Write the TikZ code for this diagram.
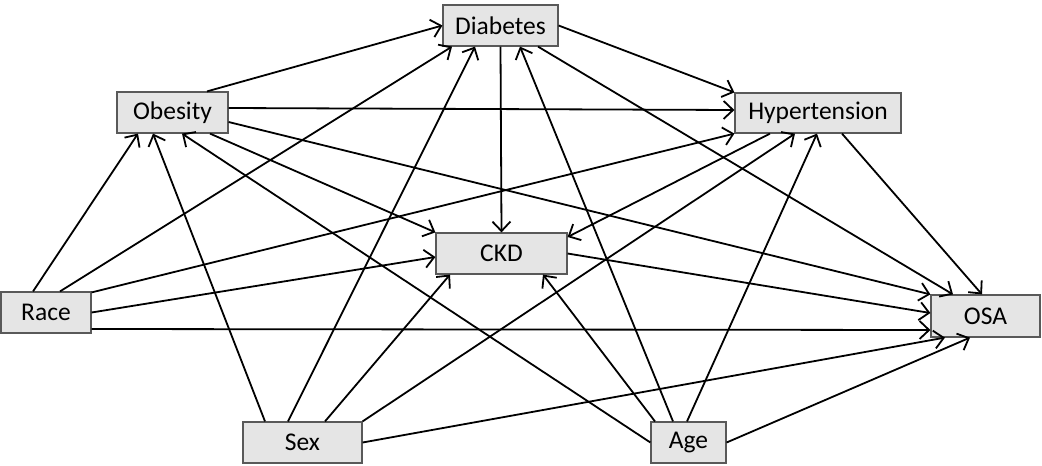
\documentclass[tikz,border=0pt]{standalone}
\usepackage{fontspec}
\setmainfont{Carlito}
\usepackage{tikz}
\usetikzlibrary{arrows.meta}

\begin{document}
\begin{tikzpicture}[x=1pt,y=-1pt,
  box/.style={draw=black!65,fill=black!10,line width=1.2pt,inner sep=0pt,
    minimum height=41pt,font=\fontsize{25.5}{30}\selectfont},
  arr/.style={line width=1.8pt,
    -{Straight Barb[length=9.5pt,width=18pt,line width=1.8pt]}}
]
\useasboundingbox (0,0) rectangle (1042,466);
%--- variables ---
\node[box,minimum width=115pt] (diab) at (500.5,25.5) {Diabetes};
\node[box,minimum width=111pt] (obes) at (172.5,112.5) {Obesity};
\node[box,minimum width=166pt,minimum height=40pt] (hyp) at (818,113) {Hypertension};
\node[box,minimum width=131pt] (ckd) at (501.5,253.5) {CKD};
\node[box,minimum width=90pt] (race) at (46,312.5) {Race};
\node[box,minimum width=109pt,minimum height=42pt] (osa) at (985.5,316) {OSA};
\node[box,minimum width=119pt] (sex) at (302.5,442.5) {Sex};
\node[box,minimum width=75pt] (age) at (688.5,442.5) {Age};
%--- from race ---
\draw[arr] ([xshift=-13pt]race.north) -- ([xshift=-34.5pt]obes.south);
\draw[arr] ([xshift=14pt]race.north) -- ([xshift=-48.5pt]diab.south);
\draw[arr] ([yshift=-1pt]race.north east) -- (hyp.south west);
\draw[arr] (race.east) -- ([yshift=-3.5pt]ckd.west);
\draw[arr] ([yshift=-16.5pt]race.east) -- ([yshift=-14pt]osa.west);
%--- from obesity ---
\draw[arr] ([xshift=34.5pt]obes.north) -- (diab.west);
\draw[arr] ([yshift=4.5pt]obes.east) -- ([yshift=3pt]hyp.west);
\draw[arr] ([xshift=37.5pt]obes.south) -- (ckd.north west);
\draw[arr] ([yshift=-9.5pt]obes.east) -- (osa.north west);
%--- from diabetes ---
\draw[arr] (diab.east) -- (hyp.north west);
\draw[arr] (diab.south) -- (ckd.north);
\draw[arr] ([xshift=37.5pt]diab.south) -- ([xshift=-32.5pt]osa.north);
%--- from hypertension ---
\draw[arr] ([xshift=-48pt]hyp.south) -- ([yshift=16.5pt]ckd.east);
\draw[arr] ([xshift=24pt]hyp.south) -- ([xshift=-3.5pt]osa.north);
%--- from ckd ---
\draw[arr] (ckd.east) -- ([yshift=3pt]osa.west);
%--- from sex ---
\draw[arr] ([xshift=-37.5pt]sex.north) -- ([xshift=-19.5pt]obes.south);
\draw[arr] ([xshift=-14.5pt]sex.north) -- ([xshift=-25.5pt]diab.south);
\draw[arr] ([xshift=22.5pt]sex.north) -- ([xshift=-51.5pt]ckd.south);
\draw[arr] (sex.north east) -- ([xshift=-23pt]hyp.south);
\draw[arr] (sex.east) -- ([xshift=-40.5pt]osa.south);
%--- from age ---
\draw[arr] (age.west) -- ([xshift=9.5pt]obes.south);
\draw[arr] ([xshift=-33.5pt]age.north) -- ([xshift=41.5pt]ckd.south);
\draw[arr] ([xshift=-15.5pt]age.north) -- ([xshift=19.5pt]diab.south);
\draw[arr] ([xshift=-1.5pt]age.north) -- ([xshift=-1pt]hyp.south);
\draw[arr] (age.east) -- ([xshift=-15.5pt]osa.south);
\end{tikzpicture}
\end{document}
